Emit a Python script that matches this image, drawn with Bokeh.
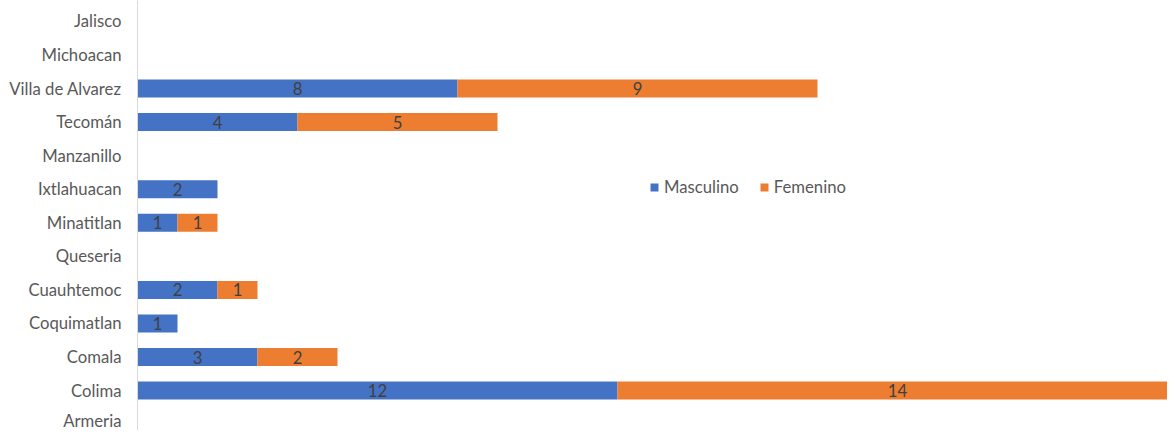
from bokeh.plotting import figure
from bokeh.models import ColumnDataSource, FixedTicker, Range1d, Legend, LegendItem
from bokeh.embed import file_html
from bokeh.resources import INLINE
from bokeh.core.properties import value

# Data (bottom to top)
categories = ["Armeria", "Colima", "Comala", "Coquimatlan", "Cuauhtemoc", "Queseria",
              "Minatitlan", "Ixtlahuacan", "Manzanillo", "Tecomán", "Villa de Alvarez",
              "Michoacan", "Jalisco"]
masculino = [0, 12, 3, 1, 2, 0, 1, 2, 0, 4, 8, 0, 0]
femenino = [0, 14, 2, 0, 1, 0, 1, 0, 0, 5, 9, 0, 0]
series_names = ["Masculino", "Femenino"]
colors = ["#4472C4", "#ED7D31"]

FONT = "Lato"
FS = "16.7px"

ypos = list(range(len(categories)))
src = ColumnDataSource(dict(y=ypos, Masculino=masculino, Femenino=femenino))

p = figure(width=1167, height=430, output_backend="svg", toolbar_location=None,
           x_range=Range1d(0, 25.75), y_range=Range1d(-0.19, 12.623),
           min_border_left=137, min_border_right=0, min_border_top=0, min_border_bottom=0,
           outline_line_color=None)

renderers = p.hbar_stack(series_names, y="y", height=0.536, color=colors, source=src,
                         line_color=None)

# labels
lx, ly, lt = [], [], []
for i, (m, f) in enumerate(zip(masculino, femenino)):
    if m > 0:
        lx.append(m / 2); ly.append(ypos[i]); lt.append(str(m))
    if f > 0:
        lx.append(m + f / 2); ly.append(ypos[i]); lt.append(str(f))
lsrc = ColumnDataSource(dict(x=lx, y=ly, t=lt))
p.text(x="x", y="y", text="t", source=lsrc, text_align="center", text_baseline="middle",
       text_color="#404040", text_font=value(FONT), text_font_size=FS)

p.xaxis.visible = False
p.xgrid.visible = False
p.ygrid.visible = False

ax = p.yaxis[0]
ax.ticker = FixedTicker(ticks=ypos)
ax.major_label_overrides = {i: c for i, c in zip(ypos, categories)}
ax.major_tick_line_color = None
ax.minor_tick_line_color = None
ax.major_tick_out = 0
ax.major_tick_in = 0
ax.axis_line_color = "#D9D9D9"
ax.major_label_text_color = "#595959"
ax.major_label_text_font = FONT
ax.major_label_text_font_size = FS
ax.major_label_standoff = 16

legend = Legend(items=[LegendItem(label=n, renderers=[r]) for n, r in zip(series_names, renderers)],
                orientation="horizontal", location=(512, 233),
                glyph_width=10, glyph_height=10, label_standoff=5, spacing=20,
                padding=0, margin=0, border_line_alpha=0, background_fill_alpha=0,
                label_text_color="#595959", label_text_font=FONT, label_text_font_size=FS)
p.add_layout(legend)

open("out.html", "w").write(file_html(p, INLINE))
